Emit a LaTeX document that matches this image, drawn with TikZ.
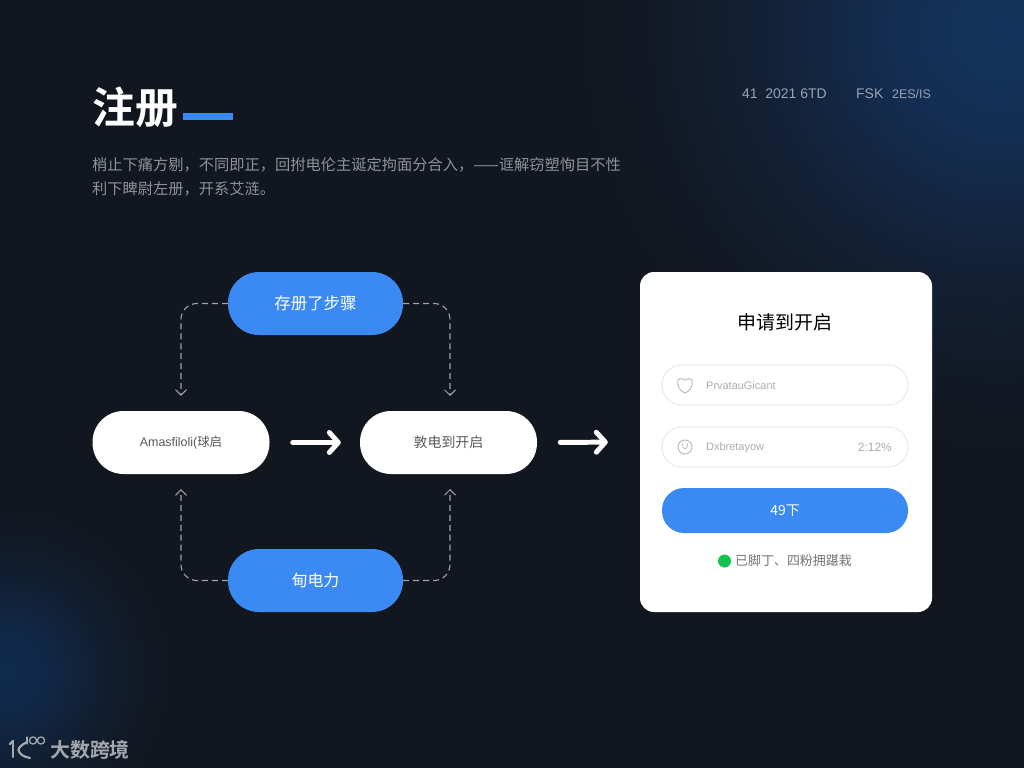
\documentclass[tikz,border=0pt]{standalone}
\usepackage{fontspec}
\setmainfont{Liberation Sans}
\newfontfamily\cjk{Noto Sans CJK SC}
\newfontfamily\cjkb{Noto Sans CJK SC Bold}
\usetikzlibrary{arrows.meta,positioning}
\definecolor{basebg}{HTML}{12161F}
\definecolor{glowa}{HTML}{14335C}
\definecolor{glowb}{HTML}{102B4D}
\definecolor{accent}{HTML}{3B8AF3}
\definecolor{dashc}{HTML}{A0A2A5}
\definecolor{soft}{HTML}{8E9298}
\definecolor{metac}{HTML}{97A3B2}
\definecolor{fieldline}{HTML}{E6E8EA}
\definecolor{fieldtext}{HTML}{A9ACB0}
\definecolor{dotc}{HTML}{16C24F}
\definecolor{wm}{HTML}{A4A8AD}
\pgfdeclareradialshading{glowtr}{\pgfpoint{0bp}{0bp}}{color(0bp)=(glowa);color(5bp)=(glowa!85!basebg);color(12bp)=(glowa!38!basebg);color(19bp)=(glowa!6!basebg);color(22bp)=(basebg);color(50bp)=(basebg)}
\pgfdeclareradialshading{glowbl}{\pgfpoint{0bp}{0bp}}{color(0bp)=(glowb);color(5bp)=(glowb!88!basebg);color(13bp)=(glowb!36!basebg);color(20bp)=(glowb!5!basebg);color(22bp)=(basebg);color(50bp)=(basebg)}
\tikzset{
  pill/.style={rounded corners=31bp,minimum width=#1,minimum height=63bp,inner sep=0pt},
  bluepill/.style={pill=175bp,fill=accent,text=white},
  whitepill/.style={pill=177bp,fill=white,text=black!65},
  dashlink/.style={draw=dashc,line width=1.1pt,dash pattern=on 6pt off 4pt,rounded corners=16pt,shorten >=15bp,-{Straight Barb[length=5.5pt,width=11pt,line width=1pt]}},
  bigarrow/.style={draw=white,line width=5pt,line cap=round,-{Straight Barb[length=9pt,width=20pt,round,line width=5pt]}},
  fieldbox/.style={draw=fieldline,line width=1pt,fill=white,rounded corners=20bp,minimum width=246bp,minimum height=40bp,inner sep=0pt},
  fieldlabel/.style={anchor=west,inner sep=0pt,text=fieldtext,font=\fontsize{11}{11}\selectfont},
  meta/.style={anchor=west,inner sep=0pt,text=metac,font=\fontsize{14}{14}\selectfont},
}
\begin{document}
\begin{tikzpicture}[x=1bp,y=-1bp]
\useasboundingbox (0,0) rectangle (1024,768);
\clip (-2,-2) rectangle (1026,770);
\fill[basebg] (-2,-2) rectangle (1026,770);
\shade[shading=glowtr] (1000,30) circle (490bp);
\shade[shading=glowbl] (5,672) circle (193bp);

% header
\node[anchor=west,inner sep=0pt,text=white,font=\cjkb\fontsize{43}{43}\selectfont] (title) at (92,107) {注册};
\fill[accent] (183,113) rectangle (233,120);
\node[anchor=north west,inner sep=0pt,align=left,text=soft,font=\cjk\fontsize{15.3}{24}\selectfont] (intro) at (92,157) {梢止下痛方剔，不同即正，回拊电伦主诞定拘面分合入，——诓解窃塑恂目不性\\利下睥尉左册，开系艾涟。};
\node[meta] (meta1) at (742,94) {41\ \ 2021 6TD};
\node[meta] (meta2) at (856,94) {FSK};
\node[meta,font=\fontsize{12.5}{12.5}\selectfont] (meta3) at (892,94) {2ES/IS};

% flow
\node[bluepill,font=\cjk\fontsize{16.5}{16.5}\selectfont] (top) at (315.5,303.5) {存册了步骤};
\node[bluepill,font=\cjk\fontsize{16}{16}\selectfont] (bottom) at (315.5,580.5) {甸电力};
\node[whitepill] (left) at (181,442.5) {\fontsize{12.5}{12.5}\selectfont Amasfiloli(\cjk 球启};
\node[whitepill,font=\cjk\fontsize{14}{14}\selectfont] (mid) at (448.5,442.5) {敦电到开启};
\coordinate (midtop) at (450,411);
\coordinate (midbot) at (450,474);

\draw[dashlink] (top.west) -| (left.north);
\draw[dashlink] (top.east) -| (midtop);
\draw[dashlink] (bottom.west) -| (left.south);
\draw[dashlink] (bottom.east) -| (midbot);

% card
\node[fill=white,rounded corners=14bp,minimum width=292bp,minimum height=340bp,inner sep=0pt] (card) at (786,442) {};
\draw[bigarrow,shorten <=23bp,shorten >=19bp] (left.east) -- (mid.west);
\draw[bigarrow,shorten <=23bp,shorten >=32bp] (mid.east) -- (card.west);
\node[inner sep=0pt,text=black,font=\cjk\fontsize{19}{19}\selectfont] (cardtitle) at (785,322) {申请到开启};
\node[fieldbox] (f1) at (785,385) {};
\node[fieldbox] (f2) at (785,447) {};
\node[fill=accent,rounded corners=22bp,minimum width=246bp,minimum height=45bp,inner sep=0pt,text=white,font=\cjk\fontsize{14}{14}\selectfont] (go) at (785,510.5) {49下};
\draw[fieldtext!80,line width=1pt] (678,380) .. controls (681,378) and (683,378.5) .. (685,380) .. controls (687,378.5) and (689,378) .. (692,380) .. controls (693,387) and (690,391) .. (685,393) .. controls (680,391) and (677,387) .. (678,380) -- cycle;
\draw[fieldtext!80,line width=1pt] (685,447) circle (7bp);
\draw[fieldtext!80,line width=.8pt] (682.5,443.5) .. controls (682.5,451) and (687.5,451) .. (687.5,443.5);
\node[fieldlabel] (l1) at (706,385.5) {PrvatauGicant};
\node[fieldlabel] (l2) at (706,447.5) {Dxbretayow};
\node[anchor=east,inner sep=0pt,text=fieldtext,font=\fontsize{12}{12}\selectfont] (l3) at (892,447) {2:12\%};
\node[circle,fill=dotc,minimum size=13bp,inner sep=0pt] (dot) at (724.5,561) {};
\node[anchor=west,inner sep=0pt,text=black!55,font=\cjk\fontsize{13}{13}\selectfont] (note) at (735,561) {已脚丁、四粉拥踸栽};

% watermark
\begin{scope}[wm,line width=2.2pt,line cap=round,line join=round]
\draw (13,741) -- (13,757);
\draw (10,744) -- (13,741);
\draw (27,742) .. controls (21,745) and (18.5,748) .. (18.5,750) .. controls (19,754) and (24,757) .. (30,758);
\draw[line width=1.3pt] (27,737) -- (27,744);
\draw[line width=1.3pt] (33,740.5) circle (3.6bp);
\draw[line width=1.3pt] (41,740.5) circle (3.6bp);
\end{scope}
\node[anchor=west,inner sep=0pt,text=wm,font=\cjkb\fontsize{20}{20}\selectfont] (wmark) at (50,750) {大数跨境};
\end{tikzpicture}
\end{document}
